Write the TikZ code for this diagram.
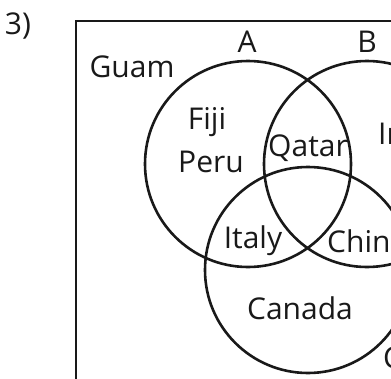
\documentclass[tikz,border=0pt]{standalone}
\usepackage{fontspec}
\setmainfont{Open Sans}
\usepackage{tikz}
\tikzset{
    venn-circle/.style = {draw=black!90, circle, line width=2.6pt, minimum size=206pt, inner sep=0pt},
    venn-text/.style = {font=\fontsize{30}{36}\selectfont, text=black!90, inner sep=0pt},
}

\begin{document}
\begin{tikzpicture}[x=1pt, y=-1pt]
\clip (0,0) rectangle (391,378);
\draw[line width=2.8pt, black!90] (76,500) -- (76,21) -- (500,21);
\node[venn-circle] (A) at (248,164) {};
\node[venn-circle] (B) at (367,164) {};
\node[venn-circle] (C) at (308,270) {};
\node[venn-text] (num) at (18,26) {3)};
\node[venn-text] (labA) at (247,42) {A};
\node[venn-text] (labB) at (367,42) {B};
\node[venn-text, anchor=west] (labC) at (383,358) {C};
\node[venn-text] (guam) at (132,67) {Guam};
\node[venn-text] (fiji) at (207,122) {Fiji};
\node[venn-text] (peru) at (211,162) {Peru};
\node[venn-text] (qatar) at (308,148) {Qatar};
\node[venn-text, anchor=west] (india) at (378,133) {India};
\node[venn-text] (italy) at (253,241) {Italy};
\node[venn-text, anchor=west] (china) at (327,241) {China};
\node[venn-text] (canada) at (300,308) {Canada};
\end{tikzpicture}
\end{document}
